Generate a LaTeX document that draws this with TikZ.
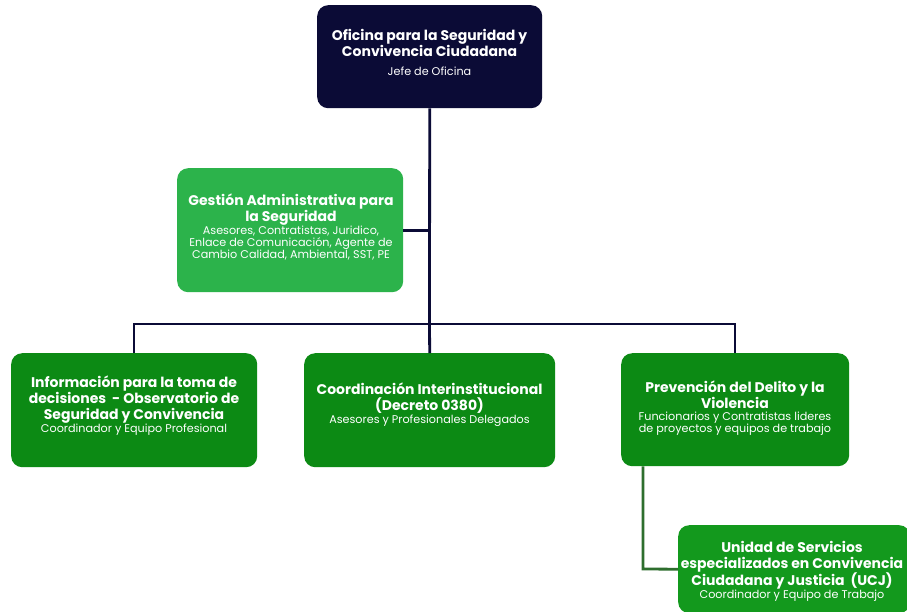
\documentclass[tikz,border=0pt]{standalone}
\usepackage{fontspec}
\setmainfont{Poppins}
\definecolor{navy}{HTML}{0B0B36}
\definecolor{lgreen}{HTML}{2CB34B}
\definecolor{dgreen}{HTML}{0C8A14}
\definecolor{ugreen}{HTML}{13991D}
\definecolor{cgreen}{HTML}{2E6E2E}
\newcommand{\ttl}{\bfseries\fontsize{14}{16}\selectfont}
\newcommand{\sbt}{\normalfont\fontsize{11.2}{12.5}\selectfont}
\tikzset{
  box/.style={rounded corners=11pt, anchor=north west, inner sep=0pt},
  txt/.style={text=white, align=center, inner sep=0pt, anchor=north, font=\ttl},
  link/.style={draw=navy, line width=2.8pt},
  glink/.style={draw=cgreen, line width=2.8pt}
}
\begin{document}
\begin{tikzpicture}[x=1pt,y=-1pt]
\useasboundingbox[fill=white] (0,0) rectangle (907,611);
\coordinate (tj) at (429.5,324);
\coordinate (lj) at (134,324);
\coordinate (rj) at (735,324);
\node[box, fill=navy, minimum width=225pt, minimum height=103pt] (top) at (317,5) {};
\node[txt] (topt) at (429.5,29) {Oficina para la Seguridad y\\Convivencia Ciudadana\\[3pt]{\sbt Jefe de Oficina}};
\node[box, fill=lgreen, minimum width=226pt, minimum height=124pt] (ges) at (177,168) {};
\node[txt] (gest) at (291,194) {Gestión Administrativa para\\la Seguridad\\[-3pt]{\sbt Asesores, Contratistas, Juridico,}\\[-4pt]{\sbt Enlace de Comunicación, Agente de}\\[-4pt]{\sbt Cambio Calidad, Ambiental, SST, PE}};
\node[box, fill=dgreen, minimum width=246pt, minimum height=114pt] (inf) at (11,353) {};
\node[txt] (inft) at (134,376) {Información para la toma de\\decisiones\ \ - Observatorio de\\Seguridad y Convivencia\\[-3pt]{\sbt Coordinador y Equipo Profesional}};
\node[box, fill=dgreen, minimum width=251pt, minimum height=114pt] (coo) at (304,353) {};
\node[txt] (coot) at (429.5,383) {Coordinación Interinstitucional\\(Decreto 0380)\\[-3pt]{\sbt Asesores y Profesionales Delegados}};
\node[box, fill=dgreen, minimum width=228pt, minimum height=113pt] (pre) at (621,353) {};
\node[txt] (pret) at (735,381) {Prevención del Delito y la\\Violencia\\[-4pt]{\sbt Funcionarios y Contratistas lideres}\\[-4pt]{\sbt de proyectos y equipos de trabajo}};
\node[box, fill=ugreen, minimum width=232pt, minimum height=88pt] (ucj) at (678,525) {};
\node[txt] (ucjt) at (792,541) {Unidad de Servicios\\especializados en Convivencia\\Ciudadana y Justicia\ \ (UCJ)\\[-3pt]{\sbt Coordinador y Equipo de Trabajo}};
\coordinate (gj) at (top.south |- ges.east);
\coordinate (pc) at (643,569);
\draw[link] (top.south) -- (tj);
\draw[link] (ges.east) -- (gj);
\draw[link, line cap=rect] (lj) -- (rj);
\draw[link] (lj) -- (inf.north -| lj);
\draw[link] (tj) -- (coo.north);
\draw[link] (rj) -- (pre.north -| rj);
\draw[glink] (pre.south -| pc) -- (pc) -- (ucj.west);
\end{tikzpicture}
\end{document}
